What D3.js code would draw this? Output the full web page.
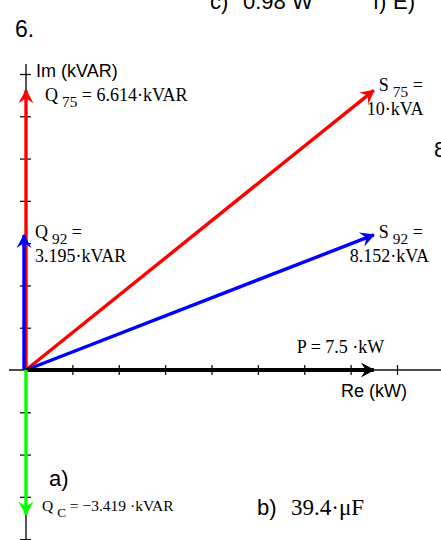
<!DOCTYPE html>
<html><head><meta charset="utf-8">
<script src="https://cdn.jsdelivr.net/npm/d3@7"></script>
<style>body{margin:0;background:#fff}svg{display:block;background:#fff}</style>
</head><body><svg id="c" width="441" height="540"></svg>
<script>
// ---- data ----
const vectorNames  = ["Q75", "S75", "Q92", "S92", "P", "QC"];
const vectorRe     = [0, 7.5, 0, 7.5, 7.5, 0];          // kW
const vectorIm     = [6.614, 6.614, 3.195, 3.195, 0, -3.419]; // kVAR
const vectorColors = ["#ff0000", "#ff0000", "#0000ff", "#0000ff", "#000000", "#00ff00"];
const reTicks = [1, 2, 3, 4, 5, 6, 7, 8];
const imTicks = [-4, -3, -2, -1, 1, 2, 3, 4, 5, 6, 7];
const labelMain = ["Q", "S", "Q", "S", "P = 7.5 ·kW", "Q"];
const labelSub  = ["75", "75", "92", "92", "", "C"];
const labelRest = [" = 6.614·kVAR", " =", " =", " =", "", " = \u22123.419 ·kVAR"];
const labelLine2 = ["", "10·kVA", "3.195·kVAR", "8.152·kVA", "", ""];

const svg = d3.select("#c");
const x = d3.scaleLinear().domain([0, 8]).range([26, 397]);
const y = d3.scaleLinear().domain([0, 7]).range([370, 74]);

// ---- axes ----
const axisCol = "#111";
const xAxis = d3.axisBottom(x).tickValues(reTicks).tickSize(5).tickFormat("");
const gx = svg.append("g").attr("transform", `translate(0,${y(0)})`).call(xAxis);
gx.select(".domain").remove();
gx.selectAll(".tick line").attr("y1", -5).attr("y2", 5).attr("stroke", axisCol).attr("stroke-width", 1.3);
svg.append("line").attr("x1", 9).attr("x2", 441).attr("y1", y(0)).attr("y2", y(0))
  .attr("stroke", axisCol).attr("stroke-width", 1.4);

const yAxis = d3.axisLeft(y).tickValues(imTicks).tickSize(5).tickFormat("");
const gy = svg.append("g").attr("transform", `translate(${x(0)},0)`).call(yAxis);
gy.select(".domain").remove();
gy.selectAll(".tick line").attr("x1", -6).attr("x2", 5).attr("stroke", axisCol).attr("stroke-width", 1.3);
svg.append("line").attr("x1", x(0)).attr("x2", x(0)).attr("y1", y(7) - 10).attr("y2", y(-4))
  .attr("stroke", axisCol).attr("stroke-width", 1.4);

// ---- arrow markers ----
const defs = svg.append("defs");
vectorColors.forEach((c, i) => {
  defs.append("marker").attr("id", "m" + i)
    .attr("markerUnits", "userSpaceOnUse")
    .attr("viewBox", "-16 -9 18 18").attr("refX", 0).attr("refY", 0)
    .attr("markerWidth", 18).attr("markerHeight", 18).attr("orient", "auto")
    .append("path").attr("d", "M1,0 L-13,-7.5 L-8,0 L-13,7.5 Z").attr("fill", c);
});

// ---- vectors ----
const vecs = vectorNames.map((n, i) => ({n, re: vectorRe[i], im: vectorIm[i], c: vectorColors[i], i}));
const order = [0, 1, 3, 2, 4, 5];
svg.append("g").selectAll("line").data(order.map(k => vecs[k])).join("line")
  .attr("x1", x(0)).attr("y1", y(0))
  .attr("x2", d => x(d.re)).attr("y2", d => y(d.im))
  .attr("stroke", d => d.c)
  .attr("stroke-width", d => d.n === "P" ? 4 : 3.4)
  .attr("transform", d => d.n === "Q92" ? "translate(-2,0)" : null)
  .attr("marker-end", d => `url(#m${d.i})`);

// ---- vector labels ----
const serif = "'Liberation Serif','Times New Roman',serif";
const sans = "'Liberation Sans',Arial,sans-serif";
const labelOffset = {
  Q75: [19, 11, 0], S75: [5, 1, -12], Q92: [9, 3, 0], S92: [5, 3, -29], P: [-77, -17, 0], QC: [16, -4, 0]
};
const labelSize = {Q75: 18, S75: 18, Q92: 18, S92: 18, P: 18, QC: 15.5};
vecs.forEach(d => {
  const [dx, dy, dx2] = labelOffset[d.n];
  const tx = x(d.re) + dx, ty = y(d.im) + dy;
  const fs = labelSize[d.n];
  const t = svg.append("text").attr("x", tx).attr("y", ty)
    .attr("font-family", serif).attr("font-size", fs).attr("fill", "#000");
  t.append("tspan").text(labelMain[d.i]);
  if (labelSub[d.i]) {
    t.append("tspan").attr("dx", 4).attr("dy", 6).attr("font-size", fs * 0.85).text(labelSub[d.i]);
    t.append("tspan").attr("dy", -6).text(labelRest[d.i]);
  }
  if (labelLine2[d.i]) {
    svg.append("text").attr("x", tx + dx2).attr("y", ty + 24)
      .attr("font-family", serif).attr("font-size", fs).attr("fill", "#000").text(labelLine2[d.i]);
  }
});

// ---- axis titles & other texts ----
function txt(s, tx, ty, fam, fs) {
  return svg.append("text").attr("x", tx).attr("y", ty).attr("font-family", fam)
    .attr("font-size", fs).attr("fill", "#000").text(s);
}
txt("Im (kVAR)", x(0) + 10, y(7) + 3, sans, 18);
txt("Re (kW)", 341, y(0) + 27, sans, 18);
txt("6.", 15, 37, sans, 23);
txt("c)", 210, 9, sans, 22);
txt("0.98 W", 243, 9, sans, 22);
txt("f)", 373, 9, sans, 22);
txt("E)", 393, 9, sans, 22);
txt("8", 434, 157, sans, 22);
txt("a)", 49, 486, sans, 22);
txt("b)", 257, 515, sans, 22);
txt("39.4·\u03BCF", 291, 515, serif, 23);
</script></body></html>
